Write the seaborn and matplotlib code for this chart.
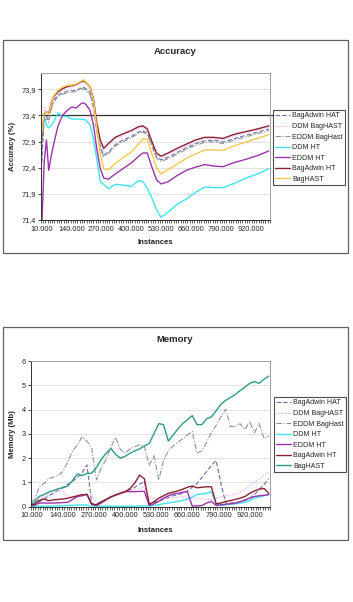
import numpy as np
import pandas as pd
import matplotlib
matplotlib.use('Agg')
import matplotlib.pyplot as plt
from matplotlib.patches import Rectangle
import seaborn as sns

# ---- data (instances in thousands) ----
acc_k = [10, 20, 30, 40, 50, 60, 80, 100, 120, 140, 160, 180, 190, 200, 220, 235, 250, 265, 280, 300,
         330, 360, 400, 430, 450, 470, 490, 510, 530, 560, 600, 640, 680, 720, 760, 800, 850, 900, 950, 1000]

acc_bagadwin_hat = [72.50, 73.35, 73.38, 73.30, 73.55, 73.68, 73.79, 73.83, 73.86, 73.87, 73.88, 73.92, 73.94, 73.92,
                    73.84, 73.60, 73.12, 72.80, 72.64, 72.70, 72.84, 72.92, 73.00, 73.08, 73.11, 73.06, 72.84, 72.61,
                    72.55, 72.60, 72.69, 72.78, 72.86, 72.91, 72.93, 72.89, 72.96, 73.02, 73.08, 73.14]
acc_ddm_baghast = [72.90, 73.55, 73.46, 73.40, 73.60, 73.73, 73.83, 73.89, 73.93, 73.95, 73.97, 74.02, 74.04, 74.02,
                   73.93, 73.70, 73.22, 72.88, 72.73, 72.82, 72.95, 73.01, 73.08, 73.15, 73.17, 73.11, 72.87, 72.65,
                   72.59, 72.65, 72.74, 72.82, 72.90, 72.95, 72.96, 72.93, 73.01, 73.07, 73.12, 73.18]
acc_eddm_baghast = [72.70, 73.30, 73.33, 73.27, 73.50, 73.64, 73.76, 73.80, 73.83, 73.84, 73.86, 73.90, 73.91, 73.89,
                    73.80, 73.55, 73.08, 72.76, 72.61, 72.67, 72.81, 72.89, 72.97, 73.05, 73.08, 73.03, 72.81, 72.58,
                    72.52, 72.57, 72.66, 72.75, 72.83, 72.88, 72.90, 72.86, 72.93, 72.99, 73.05, 73.11]
acc_ddm_ht = [73.00, 73.35, 73.22, 73.16, 73.20, 73.26, 73.45, 73.38, 73.38, 73.33, 73.33, 73.33, 73.32, 73.32,
              73.22, 72.95, 72.55, 72.13, 72.08, 72.00, 72.08, 72.07, 72.04, 72.15, 72.14, 72.00, 71.82, 71.60,
              71.45, 71.55, 71.70, 71.80, 71.93, 72.03, 72.02, 72.02, 72.10, 72.20, 72.28, 72.38]
acc_eddm_ht = [71.30, 72.50, 72.93, 72.35, 72.60, 72.82, 73.19, 73.40, 73.49, 73.56, 73.54, 73.62, 73.64, 73.62,
               73.50, 73.22, 72.75, 72.38, 72.20, 72.18, 72.28, 72.37, 72.49, 72.61, 72.68, 72.68, 72.41, 72.17,
               72.09, 72.13, 72.25, 72.35, 72.41, 72.46, 72.43, 72.42, 72.50, 72.56, 72.63, 72.72]
acc_bagadwin_ht = [73.00, 73.42, 73.47, 73.44, 73.62, 73.75, 73.85, 73.91, 73.95, 73.97, 73.99, 74.04, 74.06, 74.04,
                   73.95, 73.72, 73.25, 72.92, 72.77, 72.86, 72.98, 73.04, 73.11, 73.18, 73.20, 73.14, 72.90, 72.68,
                   72.62, 72.68, 72.77, 72.85, 72.93, 72.98, 72.98, 72.96, 73.04, 73.09, 73.14, 73.20]
acc_baghast = [73.05, 73.43, 73.47, 73.42, 73.60, 73.76, 73.88, 73.94, 73.97, 73.98, 74.00, 74.05, 74.08, 74.05,
               73.95, 73.70, 73.15, 72.65, 72.38, 72.36, 72.48, 72.58, 72.70, 72.84, 72.95, 72.94, 72.66, 72.40,
               72.28, 72.36, 72.47, 72.58, 72.66, 72.74, 72.74, 72.73, 72.82, 72.89, 72.96, 73.03]

mem_k = [10] + list(range(20, 1001, 20))

mem_bagadwin_hat = [0.10, 0.10, 0.20, 0.30, 0.45, 0.55, 0.68, 0.80, 0.92, 1.05, 1.20, 1.40, 1.72, 0.12, 0.12, 0.20,
                    0.30, 0.40, 0.50, 0.55, 0.62, 0.70, 0.80, 0.92, 1.05, 0.12, 0.18, 0.25, 0.30, 0.38, 0.45, 0.50,
                    0.55, 0.65, 0.80, 0.95, 1.20, 1.45, 1.70, 1.90, 0.95, 0.14, 0.15, 0.18, 0.20, 0.25, 0.35, 0.50,
                    0.70, 0.92, 1.15]
mem_ddm_baghast = [0.20, 0.20, 0.30, 0.40, 0.50, 0.60, 0.65, 0.65, 0.40, 0.40, 0.42, 0.45, 0.48, 0.50, 0.15, 0.20,
                   0.30, 0.42, 0.55, 0.62, 0.65, 0.68, 0.72, 0.75, 0.80, 0.35, 0.35, 0.32, 0.32, 0.35, 0.38, 0.40,
                   0.40, 0.38, 0.35, 0.35, 0.32, 0.30, 0.30, 0.35, 0.40, 0.45, 0.48, 0.52, 0.60, 0.70, 0.85, 1.00,
                   1.15, 1.30, 1.40]
mem_eddm_baghast = [0.25, 0.25, 0.80, 0.95, 1.15, 1.22, 1.30, 1.45, 1.85, 2.30, 2.55, 2.88, 2.70, 2.40, 1.10, 1.60,
                    1.95, 2.45, 2.85, 2.35, 2.20, 2.38, 2.47, 2.55, 2.50, 1.70, 2.10, 1.10, 1.90, 2.30, 2.50, 2.65,
                    2.80, 2.95, 3.10, 2.20, 2.30, 2.65, 3.05, 3.35, 3.70, 4.02, 3.30, 3.30, 3.42, 3.18, 3.50, 3.05,
                    3.42, 2.82, 2.90]
mem_ddm_ht = [0.02, 0.02, 0.02, 0.02, 0.02, 0.03, 0.03, 0.04, 0.05, 0.06, 0.07, 0.07, 0.07, 0.02, 0.02, 0.02,
              0.02, 0.02, 0.02, 0.02, 0.02, 0.02, 0.02, 0.03, 0.03, 0.03, 0.05, 0.08, 0.12, 0.15, 0.18, 0.22,
              0.26, 0.30, 0.40, 0.50, 0.52, 0.55, 0.62, 0.10, 0.05, 0.08, 0.10, 0.12, 0.15, 0.18, 0.25, 0.35,
              0.40, 0.45, 0.50]
mem_eddm_ht = [0.05, 0.05, 0.15, 0.15, 0.15, 0.15, 0.16, 0.17, 0.18, 0.30, 0.42, 0.45, 0.52, 0.10, 0.05, 0.15,
               0.28, 0.40, 0.48, 0.55, 0.62, 0.62, 0.62, 0.63, 0.63, 0.05, 0.12, 0.22, 0.35, 0.45, 0.52, 0.55,
               0.60, 0.62, 0.02, 0.03, 0.05, 0.15, 0.22, 0.05, 0.08, 0.10, 0.12, 0.15, 0.20, 0.28, 0.35, 0.42,
               0.45, 0.47, 0.50]
mem_bagadwin_ht = [0.10, 0.10, 0.25, 0.32, 0.25, 0.28, 0.30, 0.32, 0.35, 0.40, 0.45, 0.50, 0.50, 0.10, 0.08, 0.20,
                   0.30, 0.40, 0.48, 0.55, 0.62, 0.75, 0.98, 1.30, 1.15, 0.10, 0.20, 0.35, 0.45, 0.55, 0.60, 0.65,
                   0.72, 0.80, 0.85, 0.78, 0.80, 0.82, 0.82, 0.12, 0.15, 0.22, 0.25, 0.30, 0.35, 0.42, 0.55, 0.65,
                   0.72, 0.75, 0.55]
mem_baghast = [0.15, 0.15, 0.42, 0.50, 0.60, 0.67, 0.74, 0.78, 0.85, 1.08, 1.35, 1.28, 1.37, 1.38, 1.62, 1.95,
               2.20, 2.40, 2.15, 2.00, 2.08, 2.20, 2.30, 2.38, 2.50, 2.60, 3.00, 3.42, 3.38, 2.70, 2.95, 3.20,
               3.42, 3.58, 3.75, 3.38, 3.38, 3.62, 3.70, 3.95, 4.22, 4.38, 4.50, 4.62, 4.78, 4.92, 5.08, 5.15,
               5.08, 5.25, 5.38]

labels = ['BagAdwin HAT', 'DDM BagHAST', 'EDDM BagHast', 'DDM HT', 'EDDM HT', 'BagAdwin HT', 'BagHAST']
tick_k = [10, 140, 270, 400, 530, 660, 790, 920]
acc_yticks = [71.4, 71.9, 72.4, 72.9, 73.4, 73.9]
mem_yticks = [0, 1, 2, 3, 4, 5, 6]

# ---- styles ----
styles = {
    'BagAdwin HAT': dict(color='#6b6fa8', linestyle=(0, (4, 2)), lw=0.8),
    'DDM BagHAST': dict(color='#f09af0', linestyle=(0, (1, 1.5)), lw=0.8),
    'EDDM BagHast': dict(color='#8f939a', linestyle=(0, (5, 1.5, 1, 1.5)), lw=0.8),
    'DDM HT': dict(color='#3fe3f0', linestyle='-', lw=1.0),
    'EDDM HT': dict(color='#9b35a8', linestyle='-', lw=1.0),
    'BagAdwin HT': dict(color='#8b2232', linestyle='-', lw=1.0),
}
baghast_acc_color = '#f7c84a'
baghast_mem_color = '#2e9c85'

sns.set_theme(style='white')
plt.rcParams['font.family'] = ['Liberation Sans', 'DejaVu Sans']

W, H = 353, 602
fig = plt.figure(figsize=(W / 100, H / 100), dpi=100)


def draw_chart(ax, xk, series, hast_color, yticks, ylim, yfmt, ylabel, title,
               box_top, title_y, xlabel_y, legend_xy, ylabel_x):
    x = [k * 1000 for k in xk]
    for name, vals in zip(labels, series):
        st = styles.get(name, dict(color=hast_color, linestyle='-', lw=1.0))
        sns.lineplot(x=x, y=vals, ax=ax, label=name, color=st['color'],
                     linestyle=st['linestyle'], linewidth=st['lw'], estimator=None)
    ax.set_xlim(5000, 1005000)
    ax.set_ylim(*ylim)
    ax.set_yticks(yticks)
    ax.set_yticklabels([yfmt(v) for v in yticks], fontsize=5.3)
    ax.set_xticks([k * 1000 for k in tick_k])
    ax.set_xticklabels([f'{k * 1000:,}'.replace(',', '.') for k in tick_k], fontsize=5.3)
    ax.set_xticks(np.arange(5000, 1006000, 10000), minor=True)
    ax.tick_params(axis='x', which='major', length=0, pad=4)
    ax.tick_params(axis='x', which='minor', length=2.2, width=0.5, color='#222222', bottom=True)
    ax.tick_params(axis='y', which='major', length=2.2, width=0.6, left=True, pad=1.5)
    ax.grid(axis='y', color='#dcdcdc', lw=0.6)
    ax.set_axisbelow(True)
    for s in ['top', 'right']:
        ax.spines[s].set_color('#a0a0a0')
        ax.spines[s].set_linewidth(0.7)
    for s in ['left', 'bottom']:
        ax.spines[s].set_color('#303030')
        ax.spines[s].set_linewidth(0.7)
    ax.set_xlabel('')
    ax.set_ylabel('')
    handles, labs = ax.get_legend_handles_labels()
    ax.legend(handles, labs, loc='upper left', bbox_to_anchor=legend_xy, bbox_transform=fig.transFigure,
              frameon=True, fancybox=False, edgecolor='#202020', fontsize=5.1, handlelength=2.0,
              labelspacing=0.5, borderpad=0.35, handletextpad=0.35, borderaxespad=0)
    ax.get_legend().get_frame().set_linewidth(0.8)
    # outer chart border
    fig.patches.append(Rectangle((3 / W, 1 - (box_top + 213) / H), 345 / W, 213 / H, transform=fig.transFigure,
                                 fill=False, edgecolor='#606060', lw=0.9))
    fig.text(175 / W, 1 - title_y / H, title, ha='center', va='center', fontsize=6.8, fontweight='bold')
    fig.text(155 / W, 1 - xlabel_y / H, 'Instances', ha='center', va='center', fontsize=5.6, fontweight='bold')
    fig.text(ylabel_x / W, ax.get_position().y0 + ax.get_position().height / 2, ylabel, ha='center',
             va='center', rotation=90, fontsize=5.6, fontweight='bold')


ax1 = fig.add_axes([40.7 / W, 1 - 220 / H, 229.3 / W, 147 / H])
draw_chart(ax1, acc_k,
           [acc_bagadwin_hat, acc_ddm_baghast, acc_eddm_baghast, acc_ddm_ht, acc_eddm_ht, acc_bagadwin_ht,
            acc_baghast],
           baghast_acc_color, acc_yticks, (71.4, 74.21), lambda v: f'{v:.1f}'.replace('.', ','),
           'Accuracy (%)', 'Accuracy', 40, 52, 243, (273 / W, 1 - 110 / H), 12)
ax1.axhline(73.4, xmin=0, xmax=1.012, color='#303030', lw=0.9, clip_on=False, zorder=1)

ax2 = fig.add_axes([30.7 / W, 1 - 506.7 / H, 239.3 / W, 145.7 / H])
draw_chart(ax2, mem_k,
           [mem_bagadwin_hat, mem_ddm_baghast, mem_eddm_baghast, mem_ddm_ht, mem_eddm_ht, mem_bagadwin_ht,
            mem_baghast],
           baghast_mem_color, mem_yticks, (0, 6), lambda v: f'{v}',
           'Memory (Mb)', 'Memory', 327, 339, 530, (274 / W, 1 - 397 / H), 12)

fig.savefig('out.png', dpi=100)
